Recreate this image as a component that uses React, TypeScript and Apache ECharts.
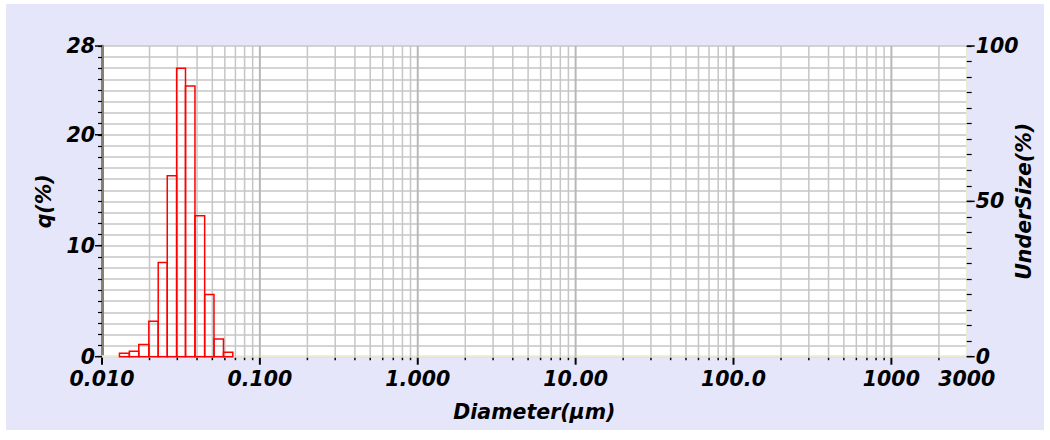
import React, { useEffect, useRef } from "react";
import * as echarts from "echarts";

// Histogram bins (diameter edges, µm) and q(%) values
const binEdges = [0.0129, 0.0149, 0.0171, 0.0198, 0.0227, 0.0259, 0.0297, 0.0338, 0.0388, 0.0447, 0.0512, 0.0588, 0.0674];
const qValues = [0.3, 0.5, 1.1, 3.2, 8.5, 16.3, 26.0, 24.4, 12.7, 5.6, 1.6, 0.4];

// X axis ticks
const xDecadeTicks = [0.01, 0.1, 1, 10, 100, 1000];
const xMinorTicks = [
  0.02, 0.03, 0.04, 0.05, 0.06, 0.07, 0.08, 0.09,
  0.2, 0.3, 0.4, 0.5, 0.6, 0.7, 0.8, 0.9,
  2, 3, 4, 5, 6, 7, 8, 9,
  20, 30, 40, 50, 60, 70, 80, 90,
  200, 300, 400, 500, 600, 700, 800, 900,
  2000,
];
const xLabelValues = [0.01, 0.1, 1, 10, 100, 1000, 3000];
const xTickLabels = ["0.010", "0.100", "1.000", "10.00", "100.0", "1000", "3000"];

// Y axis labels
const qTickLabels = [0, 10, 20, 28];
const underTickLabels = [0, 50, 100];

const FONT = {
  fontFamily: "DejaVu Sans",
  fontStyle: "italic" as const,
  fontWeight: "bold" as const,
  fontSize: 20.5,
  color: "#000",
};

export default function App() {
  const ref = useRef<HTMLDivElement>(null);

  useEffect(() => {
    if (!ref.current) return;
    const chart = echarts.init(ref.current, null, { renderer: "svg" });

    const gridData = [
      ...xDecadeTicks.map((v) => [v, 1]),
      ...xMinorTicks.map((v) => [v, 0]),
    ];
    const barData = qValues.map((q, i) => [binEdges[i], binEdges[i + 1], q]);

    chart.setOption({
      animation: false,
      backgroundColor: "#e6e6fa",
      grid: {
        left: 96,
        right: 77.3,
        top: 42,
        bottom: 73.3,
        show: true,
        backgroundColor: "#ffffff",
        borderWidth: 0,
        containLabel: false,
        outerBoundsMode: "none",
      },
      xAxis: {
        type: "log",
        logBase: 10,
        min: 0.01,
        max: 3000,
        name: "Diameter(μm)",
        nameLocation: "middle",
        nameGap: 45,
        nameMoveOverlap: false,
        nameTextStyle: { ...FONT },
        axisLine: { show: true, lineStyle: { color: "#ecead4", width: 2.5 } },
        axisTick: { show: false },
        splitLine: { show: false },
        minorSplitLine: { show: false },
        axisLabel: {
          ...FONT,
          margin: 12,
          showMaxLabel: true,
          showMinLabel: true,
          formatter: (v: number) => {
            for (let i = 0; i < xLabelValues.length; i++) {
              if (Math.abs(Math.log10(v) - Math.log10(xLabelValues[i])) < 0.01) return xTickLabels[i];
            }
            return "";
          },
        },
      },
      yAxis: [
        {
          type: "value",
          position: "left",
          min: 0,
          max: 28,
          interval: 1,
          name: "q(%)",
          nameLocation: "middle",
          nameRotate: 90,
          nameGap: 48,
          nameMoveOverlap: false,
          nameTextStyle: { ...FONT },
          axisLine: { show: true, lineStyle: { color: "#858070", width: 3 } },
          axisTick: { show: true, length: 4, lineStyle: { color: "#000", width: 1.2 } },
          splitLine: { show: true, lineStyle: { color: "#c6c6c6", width: 1.5 } },
          axisLabel: {
            ...FONT,
            lineHeight: 16,
            margin: 7,
            formatter: (v: number) => (qTickLabels.indexOf(v) >= 0 ? String(v) : ""),
          },
        },
        {
          type: "value",
          position: "right",
          min: 0,
          max: 100,
          interval: 5,
          name: "UnderSize(%)",
          nameLocation: "middle",
          nameRotate: 90,
          nameGap: 47,
          nameMoveOverlap: false,
          nameTextStyle: { ...FONT },
          axisLine: { show: true, lineStyle: { color: "#ecead4", width: 2 } },
          axisTick: { show: true, length: 5, lineStyle: { color: "#000", width: 1.2 } },
          splitLine: { show: false },
          axisLabel: {
            ...FONT,
            lineHeight: 16,
            margin: 9,
            formatter: (v: number) => (underTickLabels.indexOf(v) >= 0 ? String(v) : ""),
          },
        },
      ],
      series: [
        {
          type: "custom",
          name: "xgrid",
          xAxisIndex: 0,
          yAxisIndex: 0,
          z: 1,
          silent: true,
          clip: false,
          data: gridData,
          renderItem: (params: any, api: any) => {
            const v = api.value(0);
            const major = api.value(1) === 1;
            const top = api.coord([v, 28]);
            const bot = api.coord([v, 0]);
            const children: any[] = [];
            if (v > 0.011) {
              children.push({
                type: "line",
                shape: { x1: top[0], y1: top[1], x2: bot[0], y2: bot[1] },
                style: { stroke: major ? "#b8b8b8" : "#c6c6c6", lineWidth: major ? 2 : 1.5 },
              });
            }
            children.push({
              type: "line",
              shape: { x1: bot[0], y1: bot[1] + 1, x2: bot[0], y2: bot[1] + (major ? 8 : 3.5) },
              style: { stroke: "#000", lineWidth: major ? 2 : 1.5 },
            });
            return { type: "group", children };
          },
        },
        {
          type: "custom",
          name: "qMajorTicks",
          xAxisIndex: 0,
          yAxisIndex: 0,
          z: 4,
          silent: true,
          clip: false,
          data: qTickLabels.map((v) => [0.01, v]),
          renderItem: (params: any, api: any) => {
            const p = api.coord([api.value(0), api.value(1)]);
            return {
              type: "line",
              shape: { x1: p[0] - 7, y1: p[1], x2: p[0], y2: p[1] },
              style: { stroke: "#000", lineWidth: 1.5 },
            };
          },
        },
        {
          type: "custom",
          name: "uMajorTicks",
          xAxisIndex: 0,
          yAxisIndex: 1,
          z: 4,
          silent: true,
          clip: false,
          data: underTickLabels.map((v) => [3000, v]),
          renderItem: (params: any, api: any) => {
            const p = api.coord([api.value(0), api.value(1)]);
            return {
              type: "line",
              shape: { x1: p[0], y1: p[1], x2: p[0] + 8, y2: p[1] },
              style: { stroke: "#000", lineWidth: 1.5 },
            };
          },
        },
        {
          type: "custom",
          name: "q",
          xAxisIndex: 0,
          yAxisIndex: 0,
          z: 3,
          clip: false,
          encode: { x: [0, 1], y: 2 },
          data: barData,
          renderItem: (params: any, api: any) => {
            const p0 = api.coord([api.value(0), api.value(2)]);
            const p1 = api.coord([api.value(1), 0]);
            return {
              type: "rect",
              shape: { x: p0[0], y: p0[1], width: p1[0] - p0[0], height: p1[1] - p0[1] },
              style: { fill: "none", stroke: "#ff0000", lineWidth: 1.5 },
            };
          },
        },
      ],
    });

    return () => {
      chart.dispose();
    };
  }, []);

  return (
    <div
      ref={ref}
      style={{ position: "absolute", left: 6, top: 4, width: 1038, height: 426 }}
    />
  );
}
